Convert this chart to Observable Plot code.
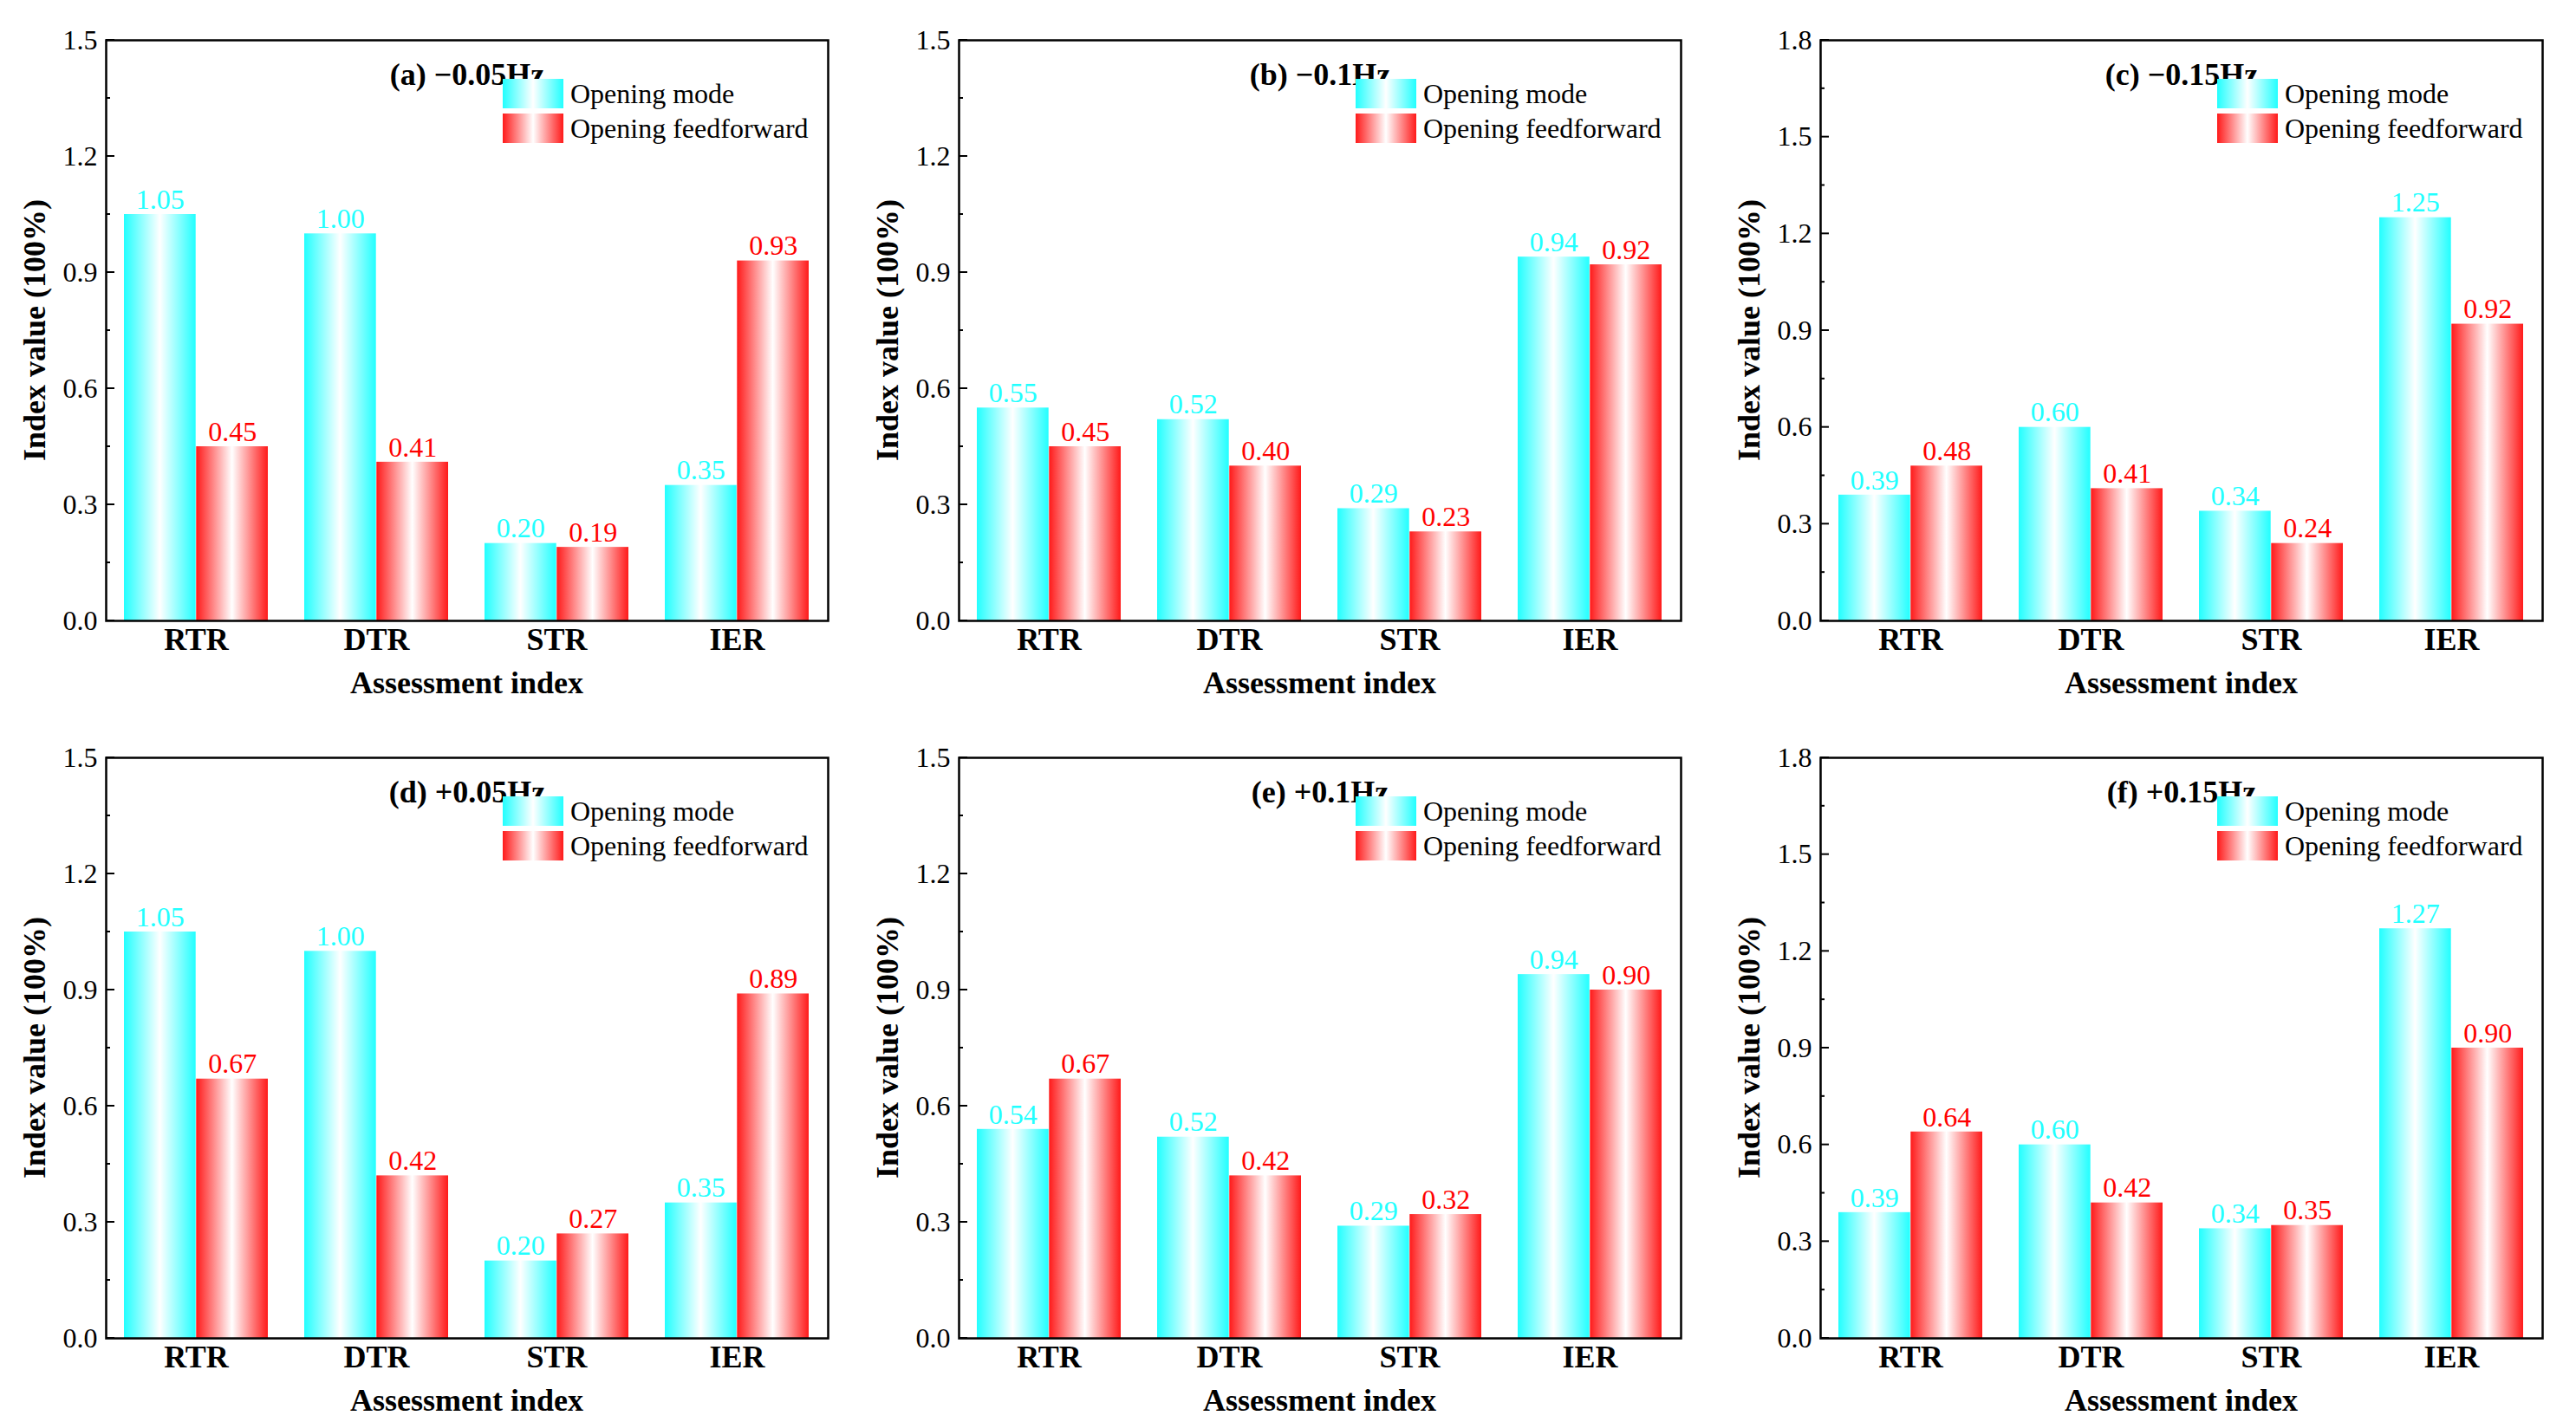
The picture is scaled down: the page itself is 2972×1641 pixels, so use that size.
<!DOCTYPE html>
<html><head><meta charset="utf-8">
<script src="https://cdn.jsdelivr.net/npm/d3@7"></script>
<script src="https://cdn.jsdelivr.net/npm/@observablehq/plot@0.6"></script>
<style>
body{margin:0;background:#fff;width:2972px;height:1641px;position:relative;font-family:"Liberation Serif",serif;overflow:hidden}
.panel{position:absolute}
svg, svg text{font-family:"Liberation Serif",serif !important}
.leg{position:absolute;font-size:32px;line-height:40px;white-space:nowrap}
.leg div{display:flex;align-items:center}
.sw{width:70px;height:34px;margin-right:8px}
.swc{background:linear-gradient(to right,#22ffff,#ffffff,#22ffff)}
.swr{background:linear-gradient(to right,#ff1a1a,#ffffff,#ff1a1a)}
</style></head><body>
<script>
const categories = ["RTR","DTR","STR","IER"];
const titles = ["(a) \u22120.05Hz","(b) \u22120.1Hz","(c) \u22120.15Hz","(d) +0.05Hz","(e) +0.1Hz","(f) +0.15Hz"];
const modeA = [1.05,1.00,0.20,0.35], ffA = [0.45,0.41,0.19,0.93];
const modeB = [0.55,0.52,0.29,0.94], ffB = [0.45,0.40,0.23,0.92];
const modeC = [0.39,0.60,0.34,1.25], ffC = [0.48,0.41,0.24,0.92];
const modeD = [1.05,1.00,0.20,0.35], ffD = [0.67,0.42,0.27,0.89];
const modeE = [0.54,0.52,0.29,0.94], ffE = [0.67,0.42,0.32,0.90];
const modeF = [0.39,0.60,0.34,1.27], ffF = [0.64,0.42,0.35,0.90];
const ticks15 = [0,0.3,0.6,0.9,1.2,1.5];
const ticks18 = [0,0.3,0.6,0.9,1.2,1.5,1.8];
const minor15 = [0.15,0.45,0.75,1.05,1.35];
const minor18 = [0.15,0.45,0.75,1.05,1.35,1.65];

const panels = [
 [modeA,ffA,ticks15,minor15],[modeB,ffB,ticks15,minor15],[modeC,ffC,ticks18,minor18],
 [modeD,ffD,ticks15,minor15],[modeE,ffE,ticks15,minor15],[modeF,ffF,ticks18,minor18]];
const lefts=[0,984,1978], tops=[0,828];
const ML=122, PW=833, MT=46, PH=670;
const step = PW/4, half = step*0.8/2;
const FF = '"Liberation Serif", serif';

panels.forEach(([mode,ff,ticks,minor],i)=>{
  const data = categories.map((c,k)=>({c,m:mode[k],f:ff[k]}));
  const ymax = ticks[ticks.length-1];
  const plot = Plot.plot({
    width: ML+PW+20, height: MT+PH+110,
    marginLeft: ML, marginRight: 20, marginTop: MT, marginBottom: 110,
    style:{fontFamily:FF, fontSize:"32px", background:"white"},
    x:{domain:categories, paddingInner:0.2, paddingOuter:0.1, label:null},
    y:{domain:[0,ymax], label:null},
    marks:[
      Plot.barY(data,{x:"c", y:"m", fill:"cyan", insetRight:half}),
      Plot.barY(data,{x:"c", y:"f", fill:"red", insetLeft:half}),
      Plot.text(data,{x:"c", y:"m", text:d=>d.m.toFixed(2), dx:-half/2, dy:-17, fill:"#22ffff", fontSize:32}),
      Plot.text(data,{x:"c", y:"f", text:d=>d.f.toFixed(2), dx:half/2, dy:-17, fill:"#ff0000", fontSize:32}),
      Plot.axisY({ticks, tickFormat:d3.format(".1f"), tickSize:0, tickPadding:10, fontSize:32, label:null}),
      Plot.axisX({tickSize:0, tickPadding:8, fontWeight:"bold", fontSize:36, label:null}),
      Plot.frame({stroke:"black", strokeWidth:2.5}),
      Plot.text([titles[i]],{frameAnchor:"top", dy:26, fontWeight:"bold", fontSize:36})
    ]
  });
  const svg = d3.select(plot);
  svg.attr("font-family",FF);
  const bars = svg.selectAll('g[aria-label="bar"]').nodes();
  svg.insert("defs",":first-child").html(
   `<linearGradient id="gc${i}" x1="0" x2="1"><stop offset="0" stop-color="#22ffff"/><stop offset="0.5" stop-color="#ffffff"/><stop offset="1" stop-color="#22ffff"/></linearGradient>
    <linearGradient id="gr${i}" x1="0" x2="1"><stop offset="0" stop-color="#ff1a1a"/><stop offset="0.5" stop-color="#ffffff"/><stop offset="1" stop-color="#ff1a1a"/></linearGradient>`);
  d3.select(bars[0]).attr("fill",`url(#gc${i})`).selectAll("rect").attr("fill",null);
  d3.select(bars[1]).attr("fill",`url(#gr${i})`).selectAll("rect").attr("fill",null);
  const ys = d3.scaleLinear([0,ymax],[MT+PH,MT]);
  const g = svg.append("g").attr("stroke","black").attr("stroke-width",2);
  ticks.forEach(t=>g.append("line").attr("x1",ML).attr("x2",ML+10).attr("y1",ys(t)).attr("y2",ys(t)));
  minor.forEach(t=>g.append("line").attr("x1",ML).attr("x2",ML+5).attr("y1",ys(t)).attr("y2",ys(t)));
  svg.append("text").attr("transform",`translate(52,${MT+PH/2}) rotate(-90)`).attr("text-anchor","middle")
    .attr("font-weight","bold").attr("font-size",36).text("Index value (100%)");
  svg.append("text").attr("x",ML+PW/2).attr("y",MT+PH+84).attr("text-anchor","middle")
    .attr("font-weight","bold").attr("font-size",36).text("Assessment index");
  const div = document.createElement("div");
  div.className="panel";
  div.style.left=lefts[i%3]+"px"; div.style.top=tops[Math.floor(i/3)]+"px";
  div.appendChild(plot);
  const leg = document.createElement("div");
  leg.className="leg";
  leg.style.left=(ML+458)+"px"; leg.style.top=(MT+42)+"px";
  leg.innerHTML='<div><span class="sw swc"></span>Opening mode</div><div><span class="sw swr"></span>Opening feedforward</div>';
  div.appendChild(leg);
  document.body.appendChild(div);
});
</script>
</body></html>
